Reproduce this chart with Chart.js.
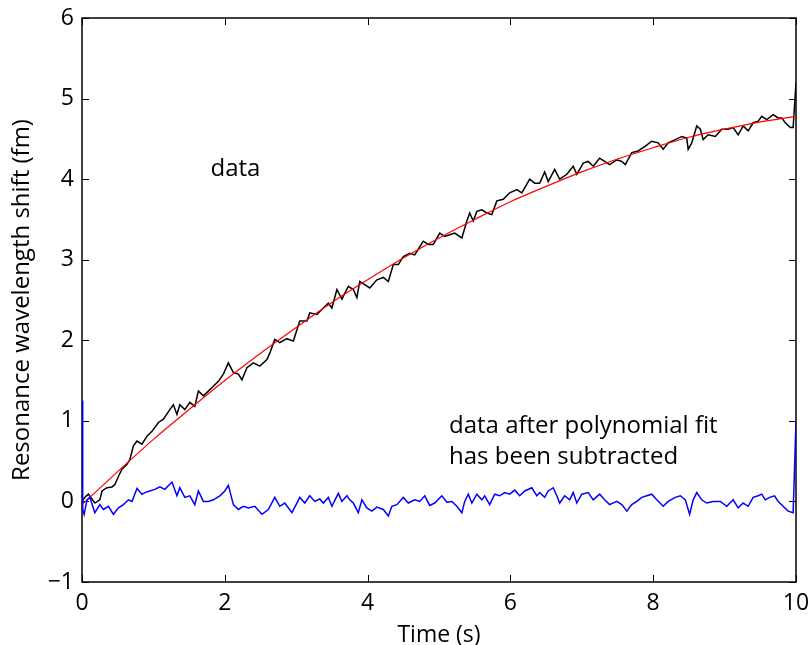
<!DOCTYPE html>
<html>
<head>
<meta charset="utf-8">
<script src="https://cdn.jsdelivr.net/npm/chart.js@4"></script>
<style>
  html, body { margin: 0; padding: 0; background: #fff; }
  #wrap { width: 810px; height: 645px; }
</style>
</head>
<body>
<div id="wrap"><canvas id="canvas" width="810" height="645"></canvas></div>
<script>
'use strict';

// measured trace (black)
const rawTime = [0.00, 0.05, 0.09, 0.18, 0.25, 0.28, 0.35, 0.42, 0.46, 0.51, 0.56, 0.63, 0.67, 0.72, 0.77, 0.84, 0.91, 0.98,
    1.07, 1.14, 1.23, 1.28, 1.33, 1.37, 1.44, 1.51, 1.58, 1.63, 1.70, 1.84, 1.91, 1.98, 2.05, 2.12, 2.19, 2.24, 2.31, 2.40,
    2.49, 2.59, 2.63, 2.70, 2.77, 2.87, 2.96, 3.05, 3.15, 3.19, 3.29, 3.38, 3.45, 3.50, 3.57, 3.64, 3.73, 3.80, 3.85, 3.89,
    3.96, 4.03, 4.13, 4.22, 4.29, 4.36, 4.43, 4.50, 4.59, 4.66, 4.71, 4.78, 4.85, 4.92, 5.01, 5.08, 5.15, 5.22, 5.32, 5.39,
    5.43, 5.48, 5.53, 5.60, 5.67, 5.74, 5.81, 5.90, 5.99, 6.09, 6.16, 6.27, 6.34, 6.41, 6.48, 6.53, 6.62, 6.69, 6.79, 6.88,
    6.93, 7.02, 7.09, 7.16, 7.25, 7.32, 7.39, 7.49, 7.56, 7.61, 7.70, 7.79, 7.89, 7.98, 8.07, 8.14, 8.21, 8.31, 8.40, 8.47,
    8.49, 8.54, 8.61, 8.66, 8.70, 8.77, 8.87, 8.96, 9.05, 9.12, 9.19, 9.26, 9.33, 9.40, 9.47, 9.52, 9.59, 9.68, 9.75, 9.80,
    9.85, 9.92, 9.96, 10.00];
const rawShift = [0.00, 0.06, 0.09, -0.02, 0.02, 0.13, 0.17, 0.18, 0.21, 0.31, 0.40, 0.46, 0.52, 0.69, 0.75, 0.71, 0.81, 0.87,
    0.98, 1.02, 1.14, 1.20, 1.08, 1.20, 1.14, 1.23, 1.18, 1.37, 1.31, 1.43, 1.49, 1.58, 1.72, 1.60, 1.58, 1.51, 1.66, 1.72,
    1.68, 1.76, 1.84, 2.01, 1.97, 2.02, 1.99, 2.24, 2.24, 2.34, 2.32, 2.40, 2.46, 2.40, 2.63, 2.51, 2.67, 2.63, 2.53, 2.73,
    2.69, 2.65, 2.75, 2.78, 2.73, 2.94, 2.94, 3.04, 3.08, 3.06, 3.13, 3.23, 3.19, 3.19, 3.33, 3.29, 3.31, 3.33, 3.27, 3.48,
    3.58, 3.48, 3.60, 3.62, 3.58, 3.56, 3.73, 3.75, 3.83, 3.87, 3.83, 4.00, 3.95, 3.95, 4.09, 3.97, 4.12, 4.00, 4.06, 4.16,
    4.06, 4.20, 4.22, 4.16, 4.26, 4.22, 4.18, 4.24, 4.22, 4.18, 4.33, 4.35, 4.41, 4.47, 4.45, 4.37, 4.45, 4.49, 4.53, 4.51,
    4.37, 4.45, 4.66, 4.62, 4.49, 4.55, 4.53, 4.62, 4.62, 4.64, 4.55, 4.66, 4.60, 4.70, 4.72, 4.78, 4.74, 4.80, 4.76, 4.76,
    4.70, 4.64, 4.64, 5.20];

// polynomial fit (red)
const fitTime = [0, 0.5, 1, 1.5, 2, 2.5, 3, 3.5, 4, 4.5, 5, 5.5, 6, 6.5, 7, 7.5, 8, 8.5, 9, 9.5, 10];
const fitShift = [-0.04, 0.37, 0.77, 1.14, 1.50, 1.84, 2.16, 2.47, 2.75, 3.02, 3.27, 3.50, 3.72, 3.91, 4.09, 4.25, 4.39,
    4.52, 4.62, 4.71, 4.78];

// data after fit subtracted (blue)
const residTime = [0.00, 0.01, 0.03, 0.07, 0.11, 0.18, 0.25, 0.30, 0.37, 0.44, 0.51, 0.58, 0.65, 0.70, 0.77, 0.84, 0.88,
    0.95, 1.02, 1.09, 1.16, 1.26, 1.33, 1.37, 1.44, 1.51, 1.58, 1.63, 1.70, 1.77, 1.84, 1.93, 2.00, 2.05, 2.12, 2.19, 2.26,
    2.33, 2.42, 2.52, 2.61, 2.70, 2.77, 2.84, 2.94, 3.01, 3.05, 3.12, 3.19, 3.26, 3.33, 3.38, 3.45, 3.50, 3.59, 3.64, 3.71,
    3.75, 3.80, 3.87, 3.92, 3.99, 4.06, 4.13, 4.22, 4.29, 4.34, 4.41, 4.50, 4.57, 4.66, 4.73, 4.80, 4.87, 4.94, 5.04, 5.11,
    5.18, 5.25, 5.32, 5.36, 5.41, 5.46, 5.53, 5.60, 5.64, 5.71, 5.78, 5.85, 5.92, 5.99, 6.06, 6.13, 6.20, 6.30, 6.37, 6.41,
    6.48, 6.53, 6.60, 6.65, 6.69, 6.76, 6.83, 6.88, 6.93, 7.00, 7.09, 7.16, 7.25, 7.32, 7.39, 7.49, 7.56, 7.63, 7.70, 7.77,
    7.84, 7.91, 7.98, 8.05, 8.14, 8.21, 8.31, 8.38, 8.45, 8.51, 8.56, 8.61, 8.68, 8.75, 8.84, 8.94, 9.03, 9.12, 9.19, 9.26,
    9.33, 9.40, 9.47, 9.52, 9.57, 9.63, 9.70, 9.75, 9.82, 9.89, 9.96, 10.00];
const residShift = [1.25, -0.10, -0.16, 0.02, 0.05, -0.14, -0.04, -0.10, -0.06, -0.16, -0.08, -0.04, 0.02, 0.00, 0.16, 0.09,
    0.11, 0.13, 0.15, 0.18, 0.15, 0.24, 0.07, 0.17, 0.05, 0.07, -0.04, 0.13, 0.00, 0.00, 0.02, 0.07, 0.13, 0.20, -0.04, -0.10,
    -0.06, -0.08, -0.06, -0.16, -0.10, 0.05, -0.06, -0.02, -0.14, -0.02, 0.05, -0.02, 0.07, 0.00, 0.03, -0.02, 0.05, -0.06,
    0.10, 0.00, 0.07, 0.02, -0.02, -0.14, 0.02, -0.08, -0.12, -0.07, -0.10, -0.18, -0.06, -0.04, 0.05, -0.02, 0.02, 0.00,
    0.07, -0.05, -0.02, 0.07, -0.01, 0.00, -0.06, -0.14, 0.00, 0.09, -0.02, 0.09, 0.02, 0.07, -0.04, 0.09, 0.07, 0.11, 0.09,
    0.14, 0.07, 0.13, 0.17, 0.07, 0.11, 0.05, 0.13, 0.17, 0.07, -0.02, 0.07, 0.02, 0.11, -0.02, 0.09, 0.11, 0.02, 0.09, 0.02,
    -0.04, 0.00, -0.04, -0.12, -0.04, 0.00, 0.05, 0.07, 0.09, 0.02, -0.06, 0.00, 0.05, 0.07, 0.02, -0.16, 0.02, 0.11, 0.02,
    -0.02, 0.00, 0.00, -0.06, 0.02, -0.08, -0.02, -0.06, 0.05, 0.07, 0.09, 0.02, 0.05, 0.07, 0.00, -0.06, -0.12, -0.14, 1.00];

const xTicks = [0, 2, 4, 6, 8, 10];
const yTicks = [-1, 0, 1, 2, 3, 4, 5, 6];

const FONT = "'Open Sans', 'DejaVu Sans', sans-serif";

function toPoints(xs, ys) {
    return xs.map((x, i) => ({ x: x, y: ys[i] }));
}

// MATLAB-like box with inward ticks on all four sides
const boxPlugin = {
    id: 'boxPlugin',
    beforeDatasetsDraw(chart) {
        const { ctx, chartArea: a, scales } = chart;
        const len = 7;
        ctx.save();
        ctx.strokeStyle = '#000';
        ctx.lineWidth = 1;
        ctx.beginPath();
        xTicks.forEach(v => {
            const px = Math.round(scales.x.getPixelForValue(v)) + 0.5;
            ctx.moveTo(px, a.bottom); ctx.lineTo(px, a.bottom - len);
            ctx.moveTo(px, a.top); ctx.lineTo(px, a.top + len);
        });
        yTicks.forEach(v => {
            const py = Math.round(scales.y.getPixelForValue(v)) + 0.5;
            ctx.moveTo(a.left, py); ctx.lineTo(a.left + len, py);
            ctx.moveTo(a.right, py); ctx.lineTo(a.right - len, py);
        });
        ctx.stroke();
        ctx.lineWidth = 1.5;
        ctx.strokeRect(a.left, a.top, a.right - a.left, a.bottom - a.top);
        ctx.restore();
    }
};

// text labels placed in data coordinates
const notes = [
    { text: 'data', x: 1.80, y: 4.12 },
    { text: 'data after polynomial fit', x: 5.14, y: 0.94 },
    { text: 'has been subtracted', x: 5.14, y: 0.55 }
];
const notePlugin = {
    id: 'notePlugin',
    afterDatasetsDraw(chart) {
        const { ctx, scales } = chart;
        ctx.save();
        ctx.fillStyle = '#000';
        ctx.font = '24px ' + FONT;
        ctx.textAlign = 'left';
        ctx.textBaseline = 'middle';
        notes.forEach(n => {
            ctx.fillText(n.text, scales.x.getPixelForValue(n.x), scales.y.getPixelForValue(n.y));
        });
        ctx.restore();
    }
};

const ctx = document.getElementById('canvas').getContext('2d');

new Chart(ctx, {
    type: 'line',
    data: {
        datasets: [
            {
                label: 'data',
                data: toPoints(rawTime, rawShift),
                borderColor: '#000000',
                borderWidth: 1.5,
                pointRadius: 0,
                tension: 0,
                order: 3
            },
            {
                label: 'fit',
                data: toPoints(fitTime, fitShift),
                borderColor: '#ff0000',
                borderWidth: 1.2,
                pointRadius: 0,
                cubicInterpolationMode: 'monotone',
                order: 2
            },
            {
                label: 'residual',
                data: toPoints(residTime, residShift),
                borderColor: '#0000ff',
                borderWidth: 1.5,
                pointRadius: 0,
                tension: 0,
                order: 1
            }
        ]
    },
    options: {
        responsive: false,
        animation: false,
        events: [],
        layout: { padding: { left: 0, right: 14, top: 18, bottom: 0 } },
        plugins: {
            legend: { display: false },
            tooltip: { enabled: false }
        },
        scales: {
            x: {
                type: 'linear',
                min: 0,
                max: 10,
                afterBuildTicks: (scale) => { scale.ticks = xTicks.map(v => ({ value: v })); },
                afterFit: (scale) => {
                    scale.height = 63;
                    scale.paddingLeft = 0;
                    scale.paddingRight = 0;
                },
                grid: { display: false, drawTicks: false },
                border: { display: false },
                ticks: {
                    color: '#000',
                    padding: 8,
                    maxRotation: 0,
                    font: { family: FONT, size: 23 }
                },
                title: {
                    display: true,
                    text: 'Time (s)',
                    color: '#000',
                    padding: { top: 0, bottom: 0 },
                    font: { family: FONT, size: 23, lineHeight: 0.8 }
                }
            },
            y: {
                type: 'linear',
                min: -1,
                max: 6,
                afterBuildTicks: (scale) => { scale.ticks = yTicks.map(v => ({ value: v })); },
                afterFit: (scale) => {
                    scale.width = 82;
                    scale.paddingTop = 0;
                    scale.paddingBottom = 0;
                },
                grid: { display: false, drawTicks: false },
                border: { display: false },
                ticks: {
                    color: '#000',
                    padding: 8,
                    font: { family: FONT, size: 23 },
                    callback: (v) => String(v).replace('-', '\u2212')
                },
                title: {
                    display: true,
                    text: 'Resonance wavelength shift (fm)',
                    color: '#000',
                    padding: { top: 8, bottom: 0 },
                    font: { family: FONT, size: 24 }
                }
            }
        }
    },
    plugins: [boxPlugin, notePlugin]
});
</script>
</body>
</html>
